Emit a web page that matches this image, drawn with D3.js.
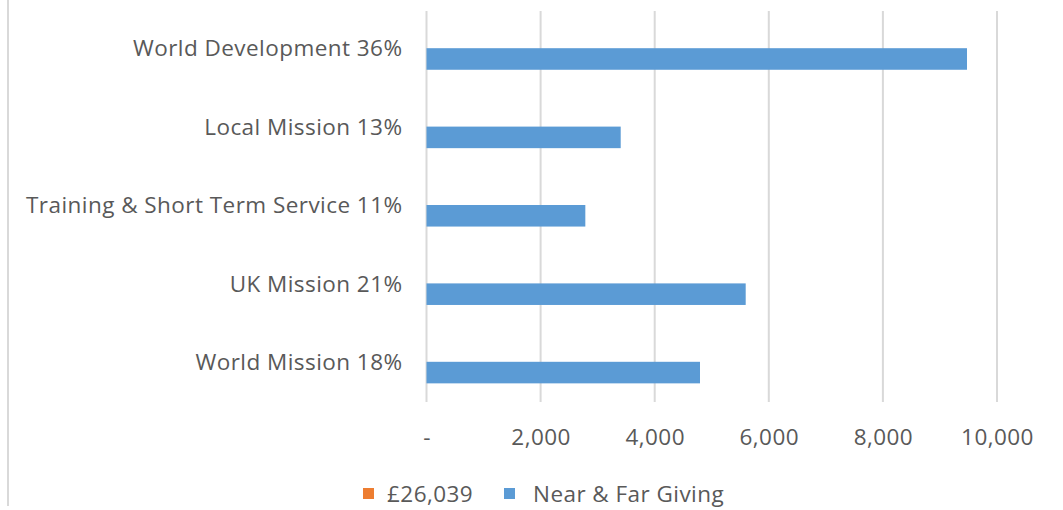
<!DOCTYPE html>
<html>
<head>
<meta charset="utf-8">
<script src="https://cdn.jsdelivr.net/npm/d3@7"></script>
<style>
  body { margin: 0; background: #fff; }
  text { font-family: "Open Sans", sans-serif; fill: #595959; letter-spacing: 0.45px; }
</style>
</head>
<body>
<div id="chart"></div>
<script>
// categories top to bottom
var categories = ["World Development 36%", "Local Mission 13%", "Training & Short Term Service 11%", "UK Mission 21%", "World Mission 18%"];
var seriesNames = ["£26,039", "Near & Far Giving"];
var seriesColors = ["#ED7D31", "#5B9BD5"];
// the £26,039 series has no values in the picture
var totalValues = [null, null, null, null, null];
var nearFarValues = [9474, 3404, 2784, 5595, 4794];
var tickValues = [0, 2000, 4000, 6000, 8000, 10000];

function init() {
    var w = 1063, h = 510;
    var left = 426.5, right = 997, top = 10, bottom = 402;
    var fontSize = "22.5px";

    var svg = d3.select("#chart").append("svg")
        .attr("width", w)
        .attr("height", h);

    // chart border edge on the left
    svg.append("line")
        .attr("x1", 8).attr("x2", 8)
        .attr("y1", 0).attr("y2", 506)
        .attr("stroke", "#d9d9d9").attr("stroke-width", 2);

    var x = d3.scaleLinear().domain([0, 10000]).range([left, right]);
    var y0 = d3.scaleBand().domain(categories).range([top, bottom])
        .paddingInner(0.45).paddingOuter(0.225);
    var y1 = d3.scaleBand().domain(seriesNames).range([0, y0.bandwidth()]);

    // gridlines
    svg.append("g").selectAll("line")
        .data(tickValues)
        .enter().append("line")
        .attr("x1", function (d) { return x(d); })
        .attr("x2", function (d) { return x(d); })
        .attr("y1", 11).attr("y2", bottom)
        .attr("stroke", "#d9d9d9").attr("stroke-width", 2);

    // bars
    var series = [totalValues, nearFarValues];
    series.forEach(function (vals, si) {
        svg.append("g").selectAll("rect")
            .data(categories.map(function (c, i) { return { cat: c, v: vals[i] }; })
                .filter(function (d) { return d.v != null; }))
            .enter().append("rect")
            .attr("x", x(0))
            .attr("y", function (d) { return y0(d.cat) + y1(seriesNames[si]) - 1; })
            .attr("width", function (d) { return x(d.v) - x(0); })
            .attr("height", y1.bandwidth())
            .attr("fill", seriesColors[si]);
    });

    // x axis labels
    var xAxis = d3.axisBottom(x)
        .tickValues(tickValues)
        .tickSize(0)
        .tickPadding(0)
        .tickFormat(function (d) { return d === 0 ? "-" : d3.format(",")(d); });
    var gx = svg.append("g")
        .attr("transform", "translate(0," + 437 + ")")
        .call(xAxis);
    gx.select(".domain").remove();
    gx.selectAll("text")
        .attr("dy", "0.35em")
        .style("font-size", fontSize)
        .style("font-family", "'Open Sans', sans-serif")
        .attr("fill", "#595959");

    // category labels
    var yAxis = d3.axisLeft(y0).tickSize(0).tickPadding(24);
    var gy = svg.append("g")
        .attr("transform", "translate(" + left + ",0)")
        .call(yAxis);
    gy.select(".domain").remove();
    gy.selectAll("text")
        .style("font-size", fontSize)
        .style("font-family", "'Open Sans', sans-serif")
        .attr("fill", "#595959");

    // legend
    var legendX = [363, 504];
    var legendTextX = [387, 533];
    var lg = svg.append("g");
    seriesNames.forEach(function (name, i) {
        lg.append("rect")
            .attr("x", legendX[i]).attr("y", 488)
            .attr("width", 11).attr("height", 11)
            .attr("fill", seriesColors[i]);
        lg.append("text")
            .attr("x", legendTextX[i]).attr("y", 494)
            .attr("dy", "0.35em")
            .style("font-size", fontSize)
            .text(name);
    });
}
window.onload = init;
</script>
</body>
</html>
